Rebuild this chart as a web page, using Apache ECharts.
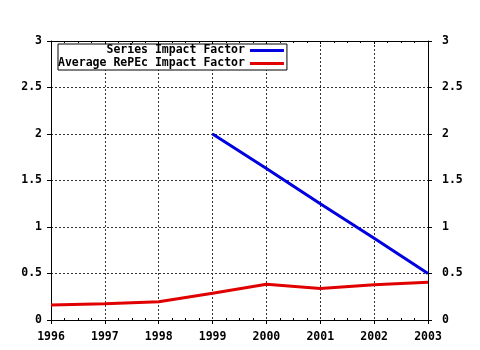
<!DOCTYPE html>
<html>
<head>
<meta charset="utf-8">
<script src="https://cdn.jsdelivr.net/npm/echarts@6/dist/echarts.min.js"></script>
<style>html,body{margin:0;padding:0;background:#fff}#c{width:480px;height:350px}</style>
</head>
<body>
<div id="c"></div>
<script>
var years = [1996, 1997, 1998, 1999, 2000, 2001, 2002, 2003];
var seriesYears = [1999, 2000, 2001, 2002, 2003];
var seriesImpact = [2.0, 1.63, 1.25, 0.88, 0.5];
var avgImpact = [0.16, 0.175, 0.197, 0.287, 0.384, 0.34, 0.38, 0.405];
var yTicks = [0, 0.5, 1, 1.5, 2, 2.5, 3];
var names = ['Series Impact Factor', 'Average RePEc Impact Factor'];

var font = 'DejaVu Sans Mono';
var fs = 11.5;
var chart = echarts.init(document.getElementById('c'));
function pairs(xs, ys) { return xs.map(function (x, i) { return [x, ys[i]]; }); }
var maxLen = Math.max.apply(null, names.map(function (n) { return n.length; }));
var yAxisBase = function (pos, margin) {
  return {
    type: 'value', position: pos, min: yTicks[0], max: yTicks[yTicks.length - 1], interval: 0.5,
    axisLine: { show: true, lineStyle: { color: '#000', width: 1 } },
    axisTick: { show: true, length: 4, lineStyle: { color: '#000' } },
    axisLabel: { margin: margin, color: '#000', fontFamily: font, fontWeight: 'bold', fontSize: fs,
      formatter: function (v) { return String(v); } },
    splitLine: { show: pos === 'left', lineStyle: { color: '#333', type: [2, 2], width: 1 } }
  };
};
chart.setOption({
  animation: false,
  backgroundColor: '#fff',
  grid: { left: 51, right: 52, top: 41, bottom: 30, containLabel: false },
  xAxis: [{
    type: 'value', min: 1996, max: 2003, interval: 1, position: 'bottom',
    axisLine: { show: true, onZero: false, lineStyle: { color: '#000', width: 1 } },
    axisTick: { show: true, length: 4, lineStyle: { color: '#000' } },
    minorTick: { show: true, splitNumber: 4, length: -2, lineStyle: { color: '#000' } },
    axisLabel: { margin: 11, color: '#000', fontFamily: font, fontWeight: 'bold', fontSize: fs,
      formatter: function (v) { return String(v); } },
    splitLine: { show: true, lineStyle: { color: '#333', type: [2, 2], width: 1 } }
  }, {
    type: 'value', min: 1996, max: 2003, interval: 1, position: 'top',
    axisLine: { show: true, onZero: false, lineStyle: { color: '#000', width: 1 } },
    axisTick: { show: true, inside: true, length: 3, lineStyle: { color: '#000' } },
    minorTick: { show: true, splitNumber: 4, length: 2, lineStyle: { color: '#000' } },
    axisLabel: { show: false },
    splitLine: { show: false }
  }],
  yAxis: [yAxisBase('left', 9), yAxisBase('right', 14)],
  legend: {
    show: true, orient: 'vertical', align: 'right', left: 58, top: 44,
    padding: [0, 3, 0, 0], itemGap: 0, itemWidth: 34, itemHeight: 3,
    borderColor: '#000', borderWidth: 1, backgroundColor: '#fff',
    icon: 'rect',
    formatter: function (n) { return n.padStart(maxLen, ' '); },
    textStyle: { color: '#000', fontFamily: font, fontWeight: 'bold', fontSize: fs, lineHeight: 13 },
    data: names
  },
  series: [{
    name: names[0], type: 'line', xAxisIndex: 0, yAxisIndex: 0,
    data: pairs(seriesYears, seriesImpact), showSymbol: false, symbol: 'none',
    lineStyle: { color: '#0000e0', width: 3 }, itemStyle: { color: '#0000e0' }
  }, {
    name: names[1], type: 'line', xAxisIndex: 0, yAxisIndex: 0,
    data: pairs(years, avgImpact), showSymbol: false, symbol: 'none',
    lineStyle: { color: '#e00000', width: 3 }, itemStyle: { color: '#e00000' }
  }]
});
</script>
</body>
</html>
